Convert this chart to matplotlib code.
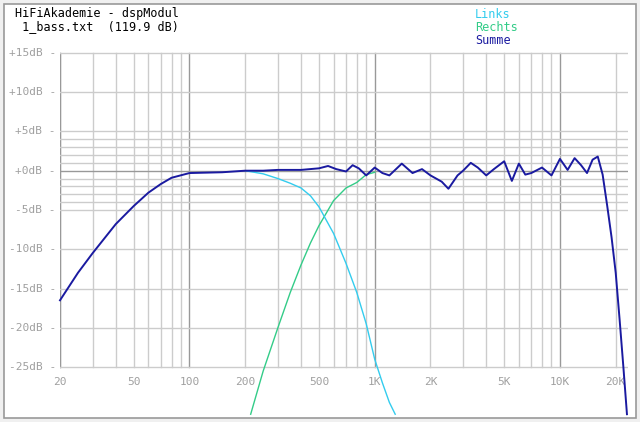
import numpy as np
import matplotlib.pyplot as plt
from matplotlib.patches import Rectangle

# Frequenzgang (Hz, dB)
summe_f = [20, 25, 30, 40, 50, 60, 70, 80, 100, 150, 200, 250, 300, 400, 500, 560, 620,
           700, 760, 820, 900, 1000, 1100, 1200, 1400, 1600, 1800, 2000, 2300, 2500, 2800,
           3000, 3300, 3600, 4000, 4400, 5000, 5500, 6000, 6500, 7000, 8000, 9000, 10000,
           11000, 12000, 13000, 14000, 15000, 16000, 17000, 18000, 19000, 20000, 21000,
           22000, 23000]
summe_db = [-16.5, -13, -10.5, -6.8, -4.5, -2.8, -1.7, -0.9, -0.3, -0.2, 0, 0, 0.1, 0.1, 0.3,
            0.6, 0.2, -0.1, 0.7, 0.3, -0.6, 0.4, -0.3, -0.6, 0.9, -0.3, 0.2, -0.6, -1.4, -2.3,
            -0.6, 0, 1.0, 0.4, -0.6, 0.2, 1.2, -1.3, 0.9, -0.5, -0.3, 0.4, -0.6, 1.5,
            0.1, 1.6, 0.7, -0.3, 1.4, 1.8, -0.5, -4.5, -8.5, -13, -19, -25, -31]
links_f = [200, 250, 300, 350, 400, 450, 500, 600, 700, 800, 900, 1000, 1100, 1200, 1290]
links_db = [0, -0.4, -1.0, -1.6, -2.2, -3.2, -4.6, -8, -11.8, -15.5, -19.5, -24, -27, -29.5, -31]
rechts_f = [214, 250, 300, 350, 400, 450, 500, 600, 700, 800, 900, 1000]
rechts_db = [-31, -25.5, -20, -15.5, -12, -9.2, -7, -3.8, -2.2, -1.5, -0.5, -0.2]

fig = plt.figure(figsize=(6.4, 4.22), dpi=100)
fig.patch.set_facecolor('#f0f0f0')
fig.add_artist(Rectangle((4/640, 4/422), 632/640, 414/422, transform=fig.transFigure,
                         facecolor='white', edgecolor='#999999', lw=1.2, zorder=-10))

ax = fig.add_axes([60/640, 7/422, 568/640, 370/422])
ax.set_xscale('log')
ax.set_xlim(20, 23300)
ax.set_ylim(-31.1, 16)
ax.axis('off')

grau = '#cccccc'
dunkel = '#999999'
lab = '#a0a0a0'
# vertikale Linien
vf = [20]
for d in [10, 100, 1000, 10000]:
    vf += [d * k for k in range(2, 10) if 20 < d * k <= 20000]
for f in vf + [100, 1000, 10000]:
    c = dunkel if f in (100, 1000, 10000) else grau
    ax.plot([f, f], [-25, 15], color=c, lw=1, zorder=1)
ax.plot([20, 20], [-25, 15], color=dunkel, lw=1, zorder=1)
# horizontale Linien
for y in list(range(-25, 16, 5)) + [-4, -3, -2, -1, 1, 2, 3, 4]:
    c = dunkel if y == 0 else grau
    ax.plot([20, 23300], [y, y], color=c, lw=1, zorder=1)

mono = 'DejaVu Sans Mono'
for y in range(-25, 16, 5):
    s = ('+%ddB' % y) if y >= 0 else ('%ddB' % y)
    ax.text(19.0, y, s + ' -', ha='right', va='center', color=lab, fontsize=8, family=mono)
xt = [20, 50, 100, 200, 500, 1000, 2000, 5000, 10000, 20000]
xl = ['20', '50', '100', '200', '500', '1K', '2K', '5K', '10K', '20K']
for f, s in zip(xt, xl):
    ax.text(f, -26.3, s, ha='center', va='top', color=lab, fontsize=8, family=mono)

ax.plot(rechts_f, rechts_db, color='#33cc88', lw=1, zorder=2, clip_on=False)
ax.plot(links_f, links_db, color='#33ccee', lw=1, zorder=2, clip_on=False)
ax.plot(summe_f, summe_db, color='#1a1aa0', lw=1.4, zorder=3, clip_on=False)

fig.text(15/640, 1 - 14/422, 'HiFiAkademie - dspModul', fontsize=8.5, family=mono, va='center')
fig.text(15/640, 1 - 27/422, ' 1_bass.txt  (119.9 dB)', fontsize=8.5, family=mono, va='center')
for i, (t, c) in enumerate([('Links', '#33ccee'), ('Rechts', '#33cc88'), ('Summe', '#1a1aa0')]):
    fig.text(475/640, 1 - (14 + 13.5 * i)/422, t, color=c, fontsize=8.5, family=mono, va='center')

fig.savefig('out.png', dpi=100)
